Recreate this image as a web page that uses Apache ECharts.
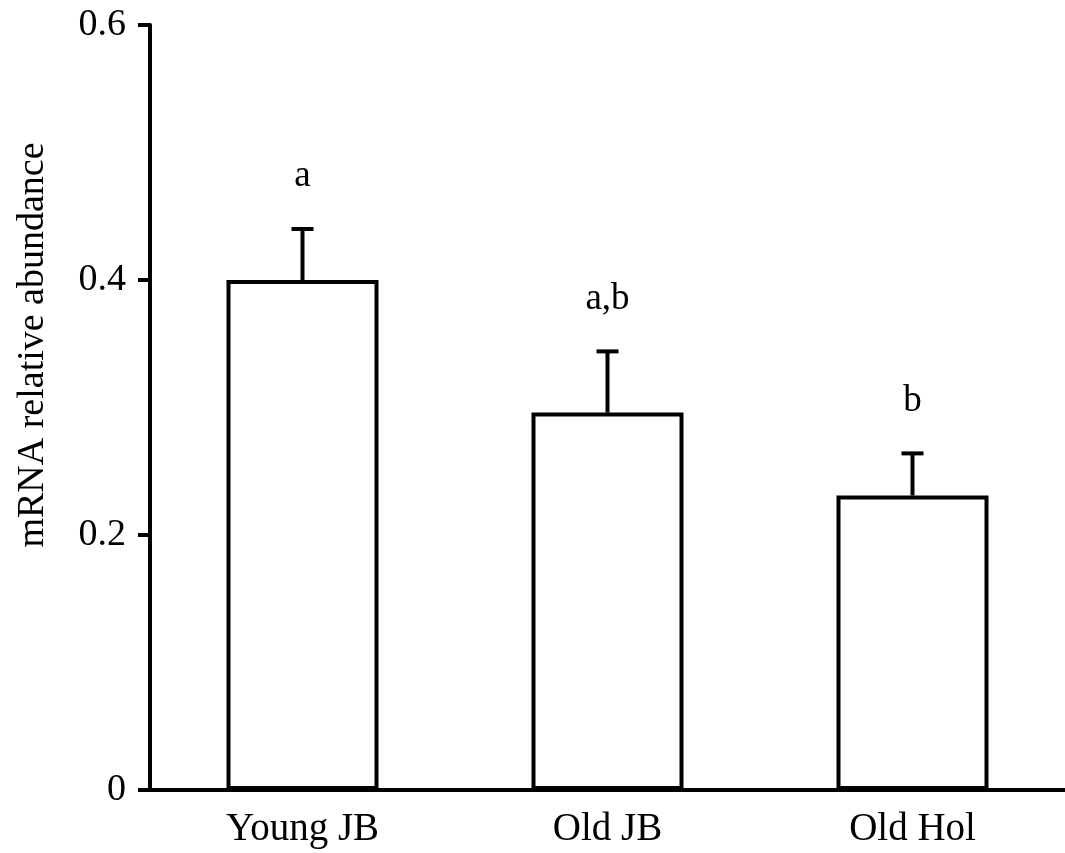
<!DOCTYPE html>
<html><head><meta charset="utf-8">
<script src="https://cdn.jsdelivr.net/npm/echarts@6/dist/echarts.min.js"></script>
<style>html,body{margin:0;padding:0;background:#fff}#c{width:1065px;height:853px}</style>
</head><body><div id="c"></div>
<script>
const categories = ['Young JB', 'Old JB', 'Old Hol'];
const means = [0.400, 0.296, 0.231];
const errors = [0.040, 0.048, 0.033];
const letters = ['a', 'a,b', 'b'];
const yTitle = 'mRNA relative abundance';

const FONT = '"Liberation Serif", "Times New Roman", serif';
const chart = echarts.init(document.getElementById('c'), null, {renderer: 'canvas'});
chart.setOption({
  animation: false,
  backgroundColor: '#fff',
  grid: {left: 150, right: -6, top: 25, bottom: 63, containLabel: false},
  xAxis: {
    type: 'category',
    data: categories,
    axisLine: {lineStyle: {color: '#000', width: 4}},
    axisTick: {show: false},
    axisLabel: {color: '#000', fontFamily: FONT, fontSize: 39, margin: 20}
  },
  yAxis: {
    type: 'value',
    min: 0, max: 0.6, interval: 0.2,
    splitLine: {show: false},
    axisLine: {show: true, lineStyle: {color: '#000', width: 4}},
    axisTick: {show: true, length: 12, lineStyle: {color: '#000', width: 4}},
    axisLabel: {color: '#000', fontFamily: FONT, fontSize: 38, margin: 24,
      formatter: v => v === 0 ? '0' : v.toFixed(1)}
  },
  graphic: [{
    type: 'text', x: 33, y: 345, rotation: Math.PI / 2,
    style: {text: yTitle, align: 'center', verticalAlign: 'middle',
      font: '38px ' + FONT, fill: '#000'}
  }],
  series: [
    {
      type: 'bar',
      data: means,
      barWidth: 152,
      itemStyle: {color: '#fff', borderColor: '#000', borderWidth: 4}
    },
    {
      type: 'custom',
      data: categories.map((c, i) => [i, means[i], errors[i]]),
      z: 5,
      renderItem: function (params, api) {
        const i = api.value(0);
        const m = api.value(1), e = api.value(2);
        const base = api.coord([i, m]);
        const top = api.coord([i, m + e]);
        const cap = 11;
        return {type: 'group', children: [
          {type: 'line', shape: {x1: base[0], y1: base[1], x2: top[0], y2: top[1]},
            style: {stroke: '#000', lineWidth: 4}},
          {type: 'line', shape: {x1: top[0] - cap, y1: top[1], x2: top[0] + cap, y2: top[1]},
            style: {stroke: '#000', lineWidth: 4}},
          {type: 'text', style: {text: letters[i], x: top[0], y: top[1] - 34,
            align: 'center', verticalAlign: 'bottom', font: '37px ' + FONT, fill: '#000'}}
        ]};
      }
    }
  ]
});
</script></body></html>
